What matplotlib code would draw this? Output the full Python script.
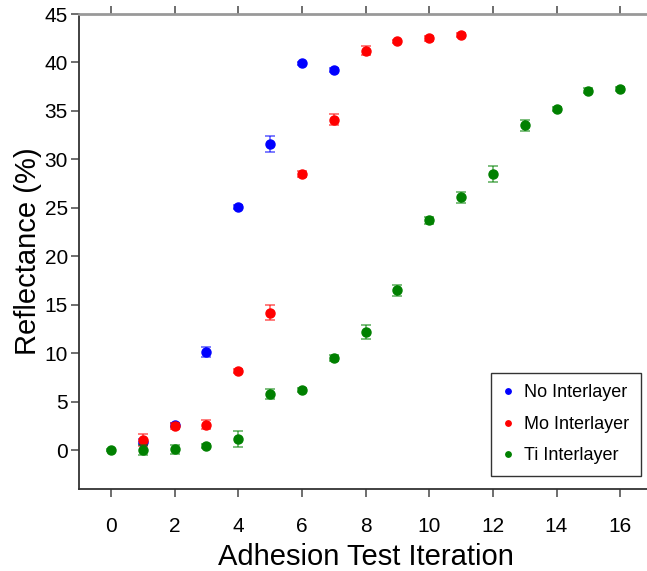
import matplotlib
matplotlib.use('Agg')
import matplotlib.pyplot as plt

plt.rcParams['font.family'] = ['Liberation Sans', 'DejaVu Sans']

# ---- data ----
no_x = [1, 2, 3, 4, 5, 6, 7]
no_y = [0.9, 2.6, 10.1, 25.1, 31.6, 39.9, 39.2]
no_err = [0.3, 0.2, 0.5, 0.2, 0.85, 0.15, 0.2]

mo_x = [1, 2, 3, 4, 5, 6, 7, 8, 9, 10, 11]
mo_y = [1.05, 2.5, 2.65, 8.2, 14.2, 28.5, 34.1, 41.2, 42.2, 42.5, 42.8]
mo_err = [0.6, 0.3, 0.45, 0.2, 0.8, 0.3, 0.6, 0.45, 0.15, 0.25, 0.2]

ti_x = [0, 1, 2, 3, 4, 5, 6, 7, 8, 9, 10, 11, 12, 13, 14, 15, 16]
ti_y = [0.0, 0.0, 0.1, 0.4, 1.15, 5.8, 6.2, 9.5, 12.2, 16.5, 23.7,
        26.1, 28.5, 33.5, 35.2, 37.1, 37.3]
ti_err = [0.1, 0.5, 0.45, 0.2, 0.8, 0.55, 0.2, 0.3, 0.75, 0.55, 0.4,
          0.55, 0.8, 0.6, 0.2, 0.3, 0.2]

series = [
    ('No Interlayer', no_x, no_y, no_err, '#0000ff'),
    ('Mo Interlayer', mo_x, mo_y, mo_err, '#ff0000'),
    ('Ti Interlayer', ti_x, ti_y, ti_err, '#008000'),
]

x_ticks = [0, 2, 4, 6, 8, 10, 12, 14, 16]
y_ticks = [0, 5, 10, 15, 20, 25, 30, 35, 40, 45]

fig = plt.figure(figsize=(6.47, 5.71), dpi=100)
ax = fig.add_axes([79 / 647, 82 / 571, 573 / 647, 475 / 571])

for label, xs, ys, errs, color in series:
    ax.errorbar(xs, ys, yerr=errs, fmt='none', ecolor=color, alpha=0.6,
                elinewidth=1.2, capsize=3.5, capthick=1.2)
    ax.plot(xs, ys, 'o', color=color, markersize=6.5, label=label)

ax.set_xlim(-1, 17)
ax.set_ylim(-4, 45)
ax.set_xticks(x_ticks)
ax.set_yticks(y_ticks)
ax.tick_params(axis='both', labelsize=15, direction='out', length=6,
               color='#555555', width=1.2)
ax.tick_params(axis='x', top=True, pad=14)
ax.tick_params(axis='y', pad=2)

ax.spines['right'].set_visible(False)
ax.spines['top'].set_color('#999999')
ax.spines['top'].set_linewidth(2)
for side in ['left', 'bottom']:
    ax.spines[side].set_color('#333333')
    ax.spines[side].set_linewidth(1.3)

ax.set_xlabel('Adhesion Test Iteration', fontsize=21, labelpad=5)
ax.set_ylabel('Reflectance (%)', fontsize=21, labelpad=2)

leg = ax.legend(loc='lower right', bbox_to_anchor=((641 - 79) / 573, 13 / 475),
                bbox_transform=ax.transAxes, borderaxespad=0, fontsize=13,
                markerscale=0.6, handlelength=0.6, handletextpad=0.6,
                borderpad=0.65, labelspacing=0.8, fancybox=False, framealpha=1)
leg.get_frame().set_edgecolor('#333333')
leg.get_frame().set_linewidth(1.0)

fig.savefig('out.png', dpi=100)
